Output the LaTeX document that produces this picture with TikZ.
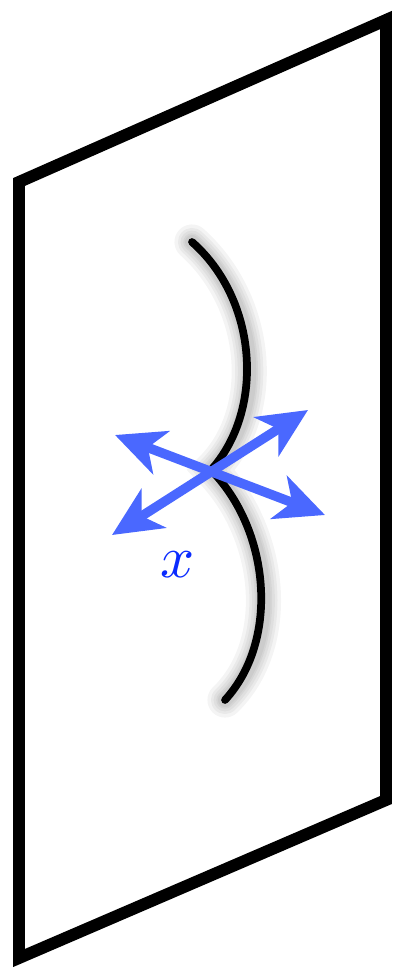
\documentclass[tikz,border=0pt]{standalone}
\usepackage{amsmath, amssymb}
\usepackage{xcolor}
\definecolor{VecBlue}{HTML}{4A68FF}
\definecolor{LabelBlue}{HTML}{0A2BFF}
\usepackage{tikz}
\usetikzlibrary{calc, arrows.meta, positioning}

\tikzset{
  plane/.style={line width=6.8pt, line join=miter, black},
  leaf/.style={line width=4.4pt, line cap=round, black},
  leafshadow/.style={line cap=round, black, opacity=0.045},
  vec/.style={line width=5.4pt, draw=VecBlue,
    {Stealth[length=28pt, width=26pt, inset=8pt]}-{Stealth[length=28pt, width=26pt, inset=8pt]}}
}

\begin{document}
\begin{tikzpicture}[x=0.02cm, y=-0.02cm]
\useasboundingbox (0,0) rectangle (397,969);

% The plane
\coordinate (tl) at (19,182);
\coordinate (tr) at (386,20);
\coordinate (br) at (386,800);
\coordinate (bl) at (19,958);
\draw[plane] (tl) -- (tr) -- (br) -- (bl) -- cycle;

% The two arcs touching at x, with a soft shadow
\coordinate (top) at (192,242);
\coordinate (x0) at (211,470);
\coordinate (bot) at (225,700);
\foreach \w in {20,16,13,10,8} {
  \draw[leafshadow, line width=\w pt, shift={(3,4)}]
    (top) .. controls (258,300) and (265,410) .. (x0)
          .. controls (270,530) and (280,640) .. (bot);
}
\draw[leaf] (top) .. controls (258,300) and (265,410) .. (x0);
\draw[leaf] (x0) .. controls (270,530) and (280,640) .. (bot);

% Tangent vectors at x
\coordinate (ul) at (115,435);
\coordinate (ur) at (308,410);
\coordinate (lr) at (325,515);
\coordinate (ll) at (112,535);
\draw[vec] (ll) -- (ur);
\draw[vec] (ul) -- (lr);

\node[text=LabelBlue, scale=3.4] (xlab) at (178,565) {$x$};
\end{tikzpicture}
\end{document}
